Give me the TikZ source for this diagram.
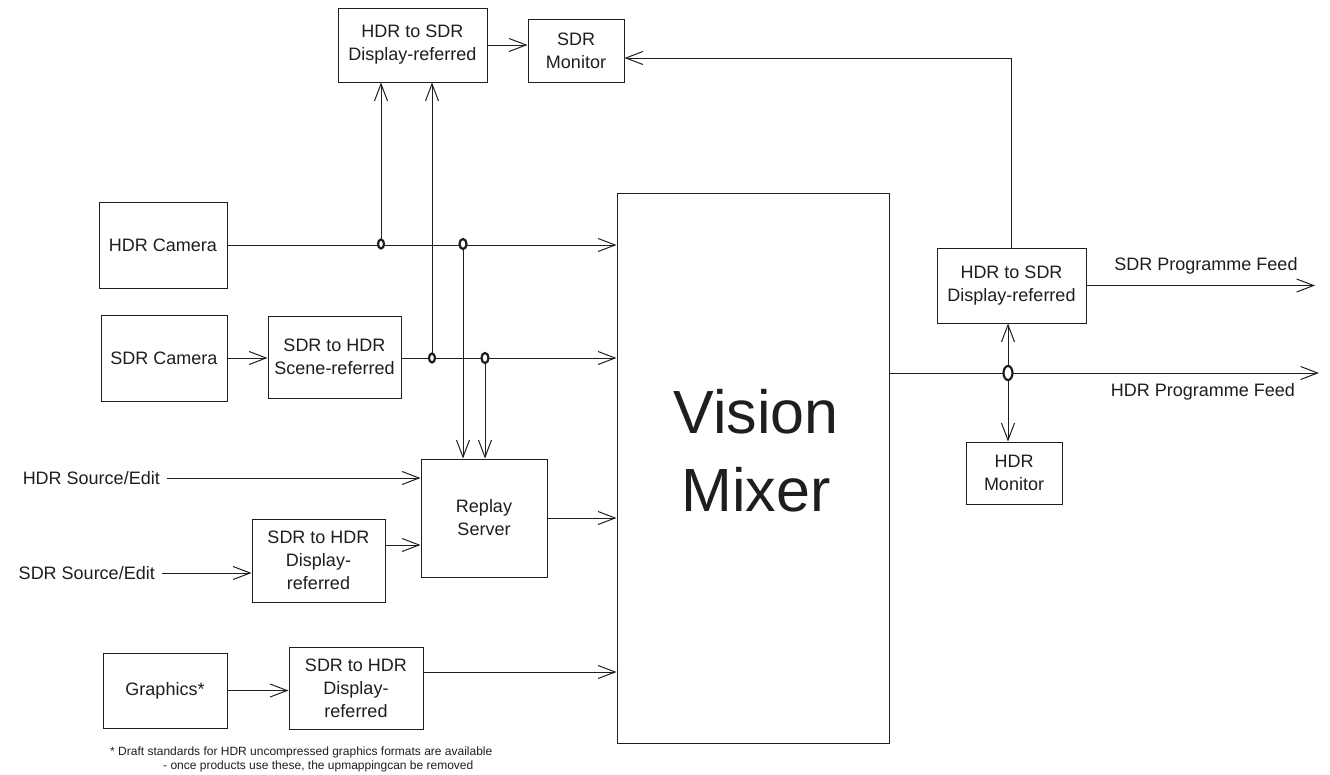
\documentclass[tikz,border=0pt]{standalone}
\usepackage{fontspec}
\setmainfont{Liberation Sans}
\usetikzlibrary{arrows.meta,calc}
\definecolor{ink}{HTML}{1E1E1E}
\tikzset{
  box/.style={draw=ink, line width=1pt, inner sep=0pt, align=center, text=ink,
              font=\fontsize{18}{23}\selectfont},
  lbl/.style={inner sep=0pt, text=ink, font=\fontsize{18}{23}\selectfont},
  src/.style={inner xsep=7pt, inner ysep=0pt, text=ink, font=\fontsize{18}{23}\selectfont},
  arr/.style={draw=ink, line width=1pt, -{Straight Barb[length=17pt,width=13pt,line width=1pt]}},
  junction/.style={draw=ink, line width=2.2pt, fill=white},
  note/.style={inner sep=0pt, text=ink, anchor=west, font=\fontsize{12}{14}\selectfont}
}
\begin{document}
\begin{tikzpicture}[x=1pt,y=-1pt]
\useasboundingbox (0,0) rectangle (1330,774);
% boxes
\node[box, minimum width=149pt, minimum height=74pt] (topconv) at (412.5,45) {HDR to SDR\\Display-referred};
\node[box, minimum width=96pt, minimum height=63pt] (sdrmon) at (576,50.5) {SDR\\Monitor};
\node[box, minimum width=128pt, minimum height=86pt] (hdrcam) at (163,245) {HDR Camera};
\node[box, minimum width=126pt, minimum height=86pt] (sdrcam) at (164,358) {SDR Camera};
\node[box, minimum width=133pt, minimum height=82pt] (scene) at (334.5,357) {SDR to HDR\\Scene-referred};
\node[box, minimum width=126pt, minimum height=118pt] (replay) at (484,518) {Replay\\Server};
\node[box, minimum width=133pt, minimum height=83pt] (disp1) at (318.5,560.5) {SDR to HDR\\Display-\\referred};
\node[box, minimum width=124pt, minimum height=75pt] (graphics) at (165,690.5) {Graphics*};
\node[box, minimum width=134pt, minimum height=82pt] (disp2) at (356,688) {SDR to HDR\\Display-\\referred};
\node[box, minimum width=272pt, minimum height=550pt] (vm) at (753,468) {};
\node[inner sep=0pt, align=center, text=ink, font=\fontsize{61}{78}\selectfont] (vmtext) at (756,451) {Vision\\Mixer};
\node[box, minimum width=149pt, minimum height=75pt] (rightconv) at (1011.5,285.5) {HDR to SDR\\Display-referred};
\node[box, minimum width=96pt, minimum height=62pt] (hdrmon) at (1014,473) {HDR\\Monitor};
% text sources and labels
\node[src, anchor=east] (hdrsrc) at (167,478) {HDR Source/Edit};
\node[src, anchor=east] (sdrsrc) at (162,573) {SDR Source/Edit};
\node[lbl] (sdrfeed) at (1206,266) {SDR Programme Feed};
\node[lbl] (hdrfeed) at (1203,392) {HDR Programme Feed};
\node[note] (note1) at (110,752) {* Draft standards for HDR uncompressed graphics formats are available};
\node[note] (note2) at (163,766) {- once products use these, the upmappingcan be removed};
% coordinates
\coordinate (j1) at (381,244);
\coordinate (j2) at (463,244);
\coordinate (j3) at (432,358);
\coordinate (j4) at (485,358);
\coordinate (j5) at (1008,373);
\coordinate (hdrend) at (1319,373);
\coordinate (sdrend) at (1315,282);
% connectors
\draw[arr] (hdrcam.east) -- (vm.west |- hdrcam.east);
\draw[arr] (sdrcam.east) -- (scene.west |- sdrcam.east);
\draw[arr] (scene.east |- j3) -- (vm.west |- j3);
\draw[arr] (j1) -- (j1 |- topconv.south);
\draw[arr] (j3) -- (j3 |- topconv.south);
\draw[arr] (j2) -- (j2 |- replay.north);
\draw[arr] (j4) -- (j4 |- replay.north);
\draw[arr] (hdrsrc) -- (replay.west |- hdrsrc);
\draw[arr] (sdrsrc) -- (disp1.west |- sdrsrc);
\draw[arr] ([yshift=15.5pt]disp1.east) -- ([yshift=15.5pt]replay.west |- disp1.east);
\draw[arr] (replay.east) -- (vm.west |- replay.east);
\draw[arr] (graphics.east) -- (disp2.west |- graphics.east);
\draw[arr] ([yshift=16pt]disp2.east) -- ([yshift=16pt]vm.west |- disp2.east);
\draw[arr] (topconv.east) -- (sdrmon.west |- topconv.east);
\draw[arr] (rightconv.north) |- ([yshift=-7.5pt]sdrmon.east);
\draw[arr] (vm.east |- hdrend) -- (hdrend);
\draw[arr] (j5) -- (j5 |- rightconv.south);
\draw[arr] (j5) -- (j5 |- hdrmon.north);
\draw[arr] (rightconv.east) -- (sdrend |- rightconv.east);
% junctions
\draw[junction] (j1) ellipse [x radius=3pt, y radius=4.5pt];
\draw[junction] (j2) ellipse [x radius=3.5pt, y radius=5pt];
\draw[junction] (j3) ellipse [x radius=3pt, y radius=4.5pt];
\draw[junction] (j4) ellipse [x radius=3.5pt, y radius=5pt];
\draw[junction] (j5) ellipse [x radius=4.5pt, y radius=7pt];
\end{tikzpicture}
\end{document}
